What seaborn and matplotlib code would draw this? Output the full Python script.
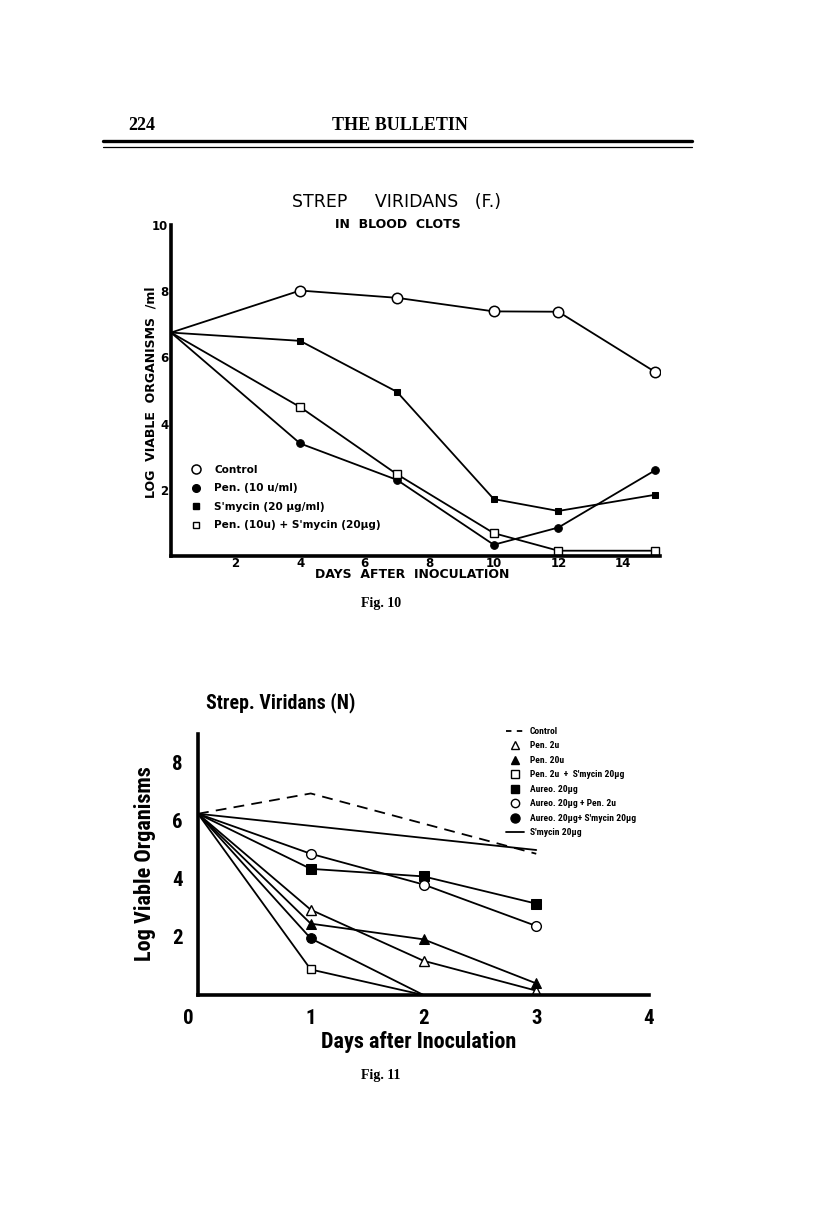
import numpy as np
import pandas as pd
import matplotlib
matplotlib.use("Agg")
import matplotlib.pyplot as plt
import matplotlib.transforms as mtransforms
from matplotlib import font_manager
import seaborn as sns
from matplotlib.lines import Line2D

# ---------------- data: Fig. 10 ----------------
days10 = [0, 4, 7, 10, 12, 15]
control10 = [6.75, 8.02, 7.80, 7.39, 7.38, 5.56]
pen10 = [6.75, 3.40, 2.30, 0.34, 0.86, 2.59]
smycin10 = [6.75, 6.50, 4.96, 1.72, 1.36, 1.85]
pen_smycin10 = [6.75, 4.50, 2.47, 0.69, 0.16, 0.16]
labels10 = ["Control", "Pen. (10 u/ml)", "S'mycin (20 \u00b5g/ml)",
            "Pen. (10u) + S'mycin (20\u00b5g)"]
xticks10 = [2, 4, 6, 8, 10, 12, 14]
yticks10 = [2, 4, 6, 8, 10]

# ---------------- data: Fig. 11 ----------------
control11_days = [0, 1, 3]
control11 = [6.25, 6.95, 4.87]
days11 = [0, 1, 2, 3]
pen2 = [6.25, 2.94, 1.18, 0.15]
pen20 = [6.25, 2.46, 1.92, 0.40]
aureo = [6.25, 4.35, 4.09, 3.15]
aureo_pen = [6.25, 4.87, 3.81, 2.38]
short_days11 = [0, 1, 2]
pen2_smycin = [6.25, 0.88, 0.0]
aureo_smycin = [6.25, 1.95, 0.0]
smycin11_days = [0, 3]
smycin11 = [6.25, 5.00]
labels11 = ["Control", "Pen. 2u", "Pen. 20u", "Pen. 2u  +  S'mycin 20\u00b5g",
            "Aureo. 20\u00b5g", "Aureo. 20\u00b5g + Pen. 2u",
            "Aureo. 20\u00b5g+ S'mycin 20\u00b5g", "S'mycin 20\u00b5g"]
xticks11 = [0, 1, 2, 3, 4]
yticks11 = [2, 4, 6, 8]

# ---------------- figure ----------------
sns.set_theme(style="white")
plt.rcParams["font.family"] = ["DejaVu Sans"]
plt.rcParams["axes.edgecolor"] = "black"
plt.rcParams["text.color"] = "black"
plt.rcParams["axes.labelcolor"] = "black"
plt.rcParams["xtick.color"] = "black"
plt.rcParams["ytick.color"] = "black"

available = {f.name for f in font_manager.fontManager.ttflist}
narrow_font = "DejaVu Sans"
for cand in ["Liberation Sans Narrow", "DejaVu Sans Condensed", "Roboto Condensed",
             "Liberation Sans"]:
    if cand in available:
        narrow_font = cand
        break
narrow = [narrow_font, "DejaVu Sans"]
is_narrow = narrow_font in ("Liberation Sans Narrow", "Roboto Condensed")
serif = [f for f in ["Liberation Serif", "DejaVu Serif"] if f in available] or ["DejaVu Serif"]

W, H = 816, 1224
fig = plt.figure(figsize=(W / 100, H / 100), dpi=100)
fig.patch.set_facecolor("white")

def fx(x):
    return x / W

def fy(y):
    return 1 - y / H

# header
fig.text(fx(128), fy(126), "224", fontsize=13, fontweight="bold",
         family=serif, ha="left", va="center")
fig.text(fx(400), fy(125), "THE BULLETIN", fontsize=13, fontweight="bold",
         family=serif, ha="center", va="center")
fig.add_artist(Line2D([fx(103), fx(692)], [fy(141), fy(141)],
                      transform=fig.transFigure, color="black", lw=2.4))
fig.add_artist(Line2D([fx(103), fx(692)], [fy(146.5), fy(146.5)],
                      transform=fig.transFigure, color="black", lw=0.9))

# ---------------- Fig. 10 axes ----------------
x0, x1 = 171, 660
yb, yt = 556, 225
ax1 = fig.add_axes([fx(x0), fy(yb), (x1 - x0) / W, (yb - yt) / H])
ax1.set_xlim(0, 15.15)
ax1.set_ylim(0, 10)

lw = 1.3
mev = list(range(1, len(days10)))
sns.lineplot(x=days10, y=control10, ax=ax1, color="black", lw=lw,
             marker="o", markersize=7.5, markerfacecolor="white",
             markeredgecolor="black", markeredgewidth=1.1, markevery=mev, sort=False)
sns.lineplot(x=days10, y=pen10, ax=ax1, color="black", lw=lw,
             marker="o", markersize=5.5, markerfacecolor="black",
             markeredgecolor="black", markevery=mev, sort=False)
sns.lineplot(x=days10, y=smycin10, ax=ax1, color="black", lw=lw,
             marker="s", markersize=4.2, markerfacecolor="black",
             markeredgecolor="black", markevery=mev, sort=False)
sns.lineplot(x=days10, y=pen_smycin10, ax=ax1, color="black", lw=lw,
             marker="s", markersize=5.2, markerfacecolor="white",
             markeredgecolor="black", markeredgewidth=1.0, markevery=mev, sort=False)

for s in ["top", "right"]:
    ax1.spines[s].set_visible(False)
for s in ["left", "bottom"]:
    ax1.spines[s].set_linewidth(2.6)
    ax1.spines[s].set_color("black")

ax1.set_xticks(xticks10)
ax1.set_xticks([1, 3, 5, 7, 9, 11, 13, 15], minor=True)
ax1.set_yticks(yticks10)
ax1.set_yticks([1, 3, 5, 7, 9], minor=True)
ax1.tick_params(axis="both", which="both", direction="in", length=5, width=1.5,
                color="black", labelsize=8.5, pad=2, labelcolor="black")
ax1.tick_params(axis="x", which="major", pad=1)
for lab in ax1.get_xticklabels() + ax1.get_yticklabels():
    lab.set_fontweight("bold")
ax1.grid(False)

ax1.set_xlabel("DAYS  AFTER  INOCULATION", fontsize=9, fontweight="bold")
ax1.xaxis.set_label_coords((412 - x0) / (x1 - x0), -(568 - yb) / (yb - yt))
ax1.set_ylabel("LOG  VIABLE  ORGANISMS  /ml", fontsize=9, fontweight="bold")
ax1.yaxis.set_label_coords(-(171 - 157) / (x1 - x0), (yb - 392) / (yb - yt))

fig.text(fx(397), fy(202), "STREP     VIRIDANS   (F.)", fontsize=12.5,
         ha="center", va="center")
fig.text(fx(398), fy(224), "IN  BLOOD  CLOTS", fontsize=9, fontweight="bold",
         ha="center", va="center")

h10 = [
    Line2D([], [], ls="none", marker="o", ms=6.5, mfc="white", mec="black", mew=1.1),
    Line2D([], [], ls="none", marker="o", ms=5.5, mfc="black", mec="black"),
    Line2D([], [], ls="none", marker="s", ms=4.2, mfc="black", mec="black"),
    Line2D([], [], ls="none", marker="s", ms=4.8, mfc="white", mec="black", mew=1.0),
]
ax1.legend(h10, labels10, loc="upper left",
           bbox_to_anchor=(fx(191), fy(465)), bbox_transform=fig.transFigure,
           frameon=False, handlelength=1.0, handletextpad=1.2,
           labelspacing=0.8, borderpad=0, borderaxespad=0,
           prop={"size": 7.6, "weight": "bold"})

fig.text(fx(381), fy(603), "Fig. 10", fontsize=10, family=serif,
         fontweight="bold", ha="center", va="center")

# ---------------- Fig. 11 axes ----------------
x0b, x1b = 198, 649
yb2, yt2 = 995, 734
ax2 = fig.add_axes([fx(x0b), fy(yb2), (x1b - x0b) / W, (yb2 - yt2) / H])
ax2.set_xlim(0, 4)
ax2.set_ylim(0, 9)

lw2 = 1.3
sns.lineplot(x=control11_days, y=control11, ax=ax2, color="black", lw=lw2,
             sort=False, linestyle=(0, (6, 4)))
sns.lineplot(x=smycin11_days, y=smycin11, ax=ax2, color="black", lw=lw2, sort=False)
sns.lineplot(x=days11, y=pen2, ax=ax2, color="black", lw=lw2, marker="^",
             markersize=6.5, markerfacecolor="white", markeredgecolor="black",
             markeredgewidth=1.0, markevery=[1, 2, 3], sort=False)
sns.lineplot(x=days11, y=pen20, ax=ax2, color="black", lw=lw2, marker="^",
             markersize=6.5, markerfacecolor="black", markeredgecolor="black",
             markevery=[1, 2, 3], sort=False)
sns.lineplot(x=short_days11, y=pen2_smycin, ax=ax2, color="black", lw=lw2, marker="s",
             markersize=6, markerfacecolor="white", markeredgecolor="black",
             markeredgewidth=1.0, markevery=[1], sort=False)
sns.lineplot(x=days11, y=aureo, ax=ax2, color="black", lw=lw2, marker="s",
             markersize=6.5, markerfacecolor="black", markeredgecolor="black",
             markevery=[1, 2, 3], sort=False)
sns.lineplot(x=days11, y=aureo_pen, ax=ax2, color="black", lw=lw2, marker="o",
             markersize=7, markerfacecolor="white", markeredgecolor="black",
             markeredgewidth=1.0, markevery=[1, 2, 3], sort=False)
sns.lineplot(x=short_days11, y=aureo_smycin, ax=ax2, color="black", lw=lw2, marker="o",
             markersize=7, markerfacecolor="black", markeredgecolor="black",
             markevery=[1], sort=False)

for s in ["top", "right"]:
    ax2.spines[s].set_visible(False)
for s in ["left", "bottom"]:
    ax2.spines[s].set_linewidth(2.6)
    ax2.spines[s].set_color("black")

big = 15 if is_narrow else 13.5
ax2.set_xticks(xticks11)
ax2.set_yticks(yticks11)
ax2.set_yticks([1, 3, 5, 7, 9], minor=True)
ax2.tick_params(axis="y", which="both", direction="out", length=9, width=1.5,
                color="black", labelsize=big, pad=2, labelcolor="black")
ax2.tick_params(axis="x", which="both", direction="out", length=7, width=1.8,
                color="black", labelsize=big, pad=3, labelcolor="black")
for lab in ax2.get_xticklabels() + ax2.get_yticklabels():
    lab.set_family(narrow)
    lab.set_fontweight("bold")
# the "0" sits a little left of the axis corner in the original
zero_lab = ax2.get_xticklabels()[0]
zero_lab.set_transform(zero_lab.get_transform() +
                       mtransforms.ScaledTranslation(-0.10, 0, fig.dpi_scale_trans))
ax2.grid(False)

lab_size = 16 if is_narrow else 13
ax2.set_xlabel("Days after Inoculation", fontsize=lab_size, fontweight="bold", family=narrow)
ax2.xaxis.set_label_coords((419 - x0b) / (x1b - x0b), -(1031 - yb2) / (yb2 - yt2))
ax2.set_ylabel("Log Viable Organisms", fontsize=lab_size, fontweight="bold", family=narrow)
ax2.yaxis.set_label_coords(-(198 - 156) / (x1b - x0b), (yb2 - 864) / (yb2 - yt2))

fig.text(fx(206), fy(703), "Strep. Viridans (N)", fontsize=14.3 if is_narrow else 12.5,
         fontweight="bold", family=narrow, ha="left", va="center")

h11 = [
    Line2D([], [], color="black", lw=1.3, ls=(0, (3, 3))),
    Line2D([], [], ls="none", marker="^", ms=6, mfc="white", mec="black", mew=1.0),
    Line2D([], [], ls="none", marker="^", ms=6, mfc="black", mec="black"),
    Line2D([], [], ls="none", marker="s", ms=6, mfc="white", mec="black", mew=1.0),
    Line2D([], [], ls="none", marker="s", ms=6, mfc="black", mec="black"),
    Line2D([], [], ls="none", marker="o", ms=6, mfc="white", mec="black", mew=1.0),
    Line2D([], [], ls="none", marker="o", ms=6.5, mfc="black", mec="black"),
    Line2D([], [], color="black", lw=1.3),
]
ax2.legend(h11, labels11, loc="upper left",
           bbox_to_anchor=(fx(506), fy(727)), bbox_transform=fig.transFigure,
           frameon=False, handlelength=1.9, handletextpad=0.6,
           labelspacing=0.58, borderpad=0, borderaxespad=0,
           prop={"size": 6.8 if is_narrow else 6.2, "weight": "bold", "family": narrow})

fig.text(fx(381), fy(1075), "Fig. 11", fontsize=10, family=serif,
         fontweight="bold", ha="center", va="center")

fig.savefig("out.png", dpi=100, facecolor="white")
